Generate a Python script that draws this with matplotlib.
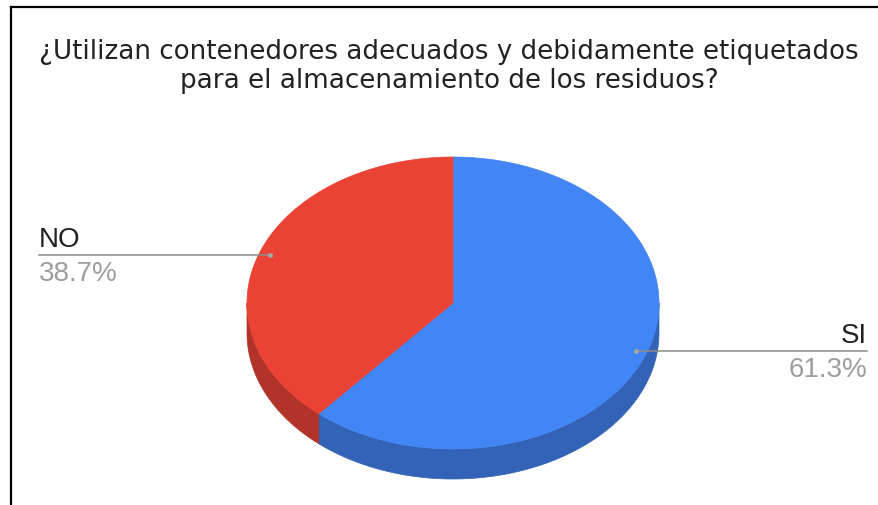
import numpy as np
import matplotlib.pyplot as plt
from matplotlib.patches import Polygon

plt.rcParams['font.family'] = ['Liberation Sans', 'DejaVu Sans']

# chart data
title_lines = ["¿Utilizan contenedores adecuados y debidamente etiquetados",
               "para el almacenamiento de los residuos?"]
labels = ["SI", "NO"]
values = [61.3, 38.7]
top_colors = ["#4285f4", "#ea4335"]
side_colors = ["#3263b6", "#b1332a"]

W, H = 879, 506
fig = plt.figure(figsize=(W / 100, H / 100), dpi=100)
ax = fig.add_axes([0, 0, 1, 1])
ax.set_xlim(0, W)
ax.set_ylim(H, 0)
ax.axis('off')

# pie geometry in pixels (tilted disc)
cx, cy, rx, ry, depth = 453, 304, 206, 146, 30


def edge(t, r=1.0, dy=0.0):
    """point on the rim, t in degrees clockwise from 12 o'clock"""
    t = np.radians(t)
    return cx + r * rx * np.sin(t), cy - r * ry * np.cos(t) + dy


total = sum(values)
starts = np.concatenate([[0], np.cumsum(values)[:-1]]) / total * 360
spans = np.array(values) / total * 360

# side walls first (only the front half is visible)
for t0, span, col in zip(starts, spans, side_colors):
    a, b = max(t0, 90), min(t0 + span, 270)
    if b <= a:
        continue
    ts = np.linspace(a, b, 200)
    upper = [edge(t) for t in ts]
    lower = [edge(t, dy=depth) for t in ts[::-1]]
    ax.add_patch(Polygon(upper + lower, closed=True, facecolor=col,
                         edgecolor=col, lw=0.5))

# top faces
for t0, span, col in zip(starts, spans, top_colors):
    ts = np.linspace(t0, t0 + span, 300)
    pts = [(cx, cy)] + [edge(t) for t in ts]
    ax.add_patch(Polygon(pts, closed=True, facecolor=col, edgecolor=col, lw=0.5))

# leader lines and labels
for lab, val, t0, span in zip(labels, values, starts, spans):
    mid = t0 + span / 2
    px, py = edge(mid, r=0.95)
    if mid < 180:
        x_end, ha = 867, 'right'
    else:
        x_end, ha = 39, 'left'
    ax.plot([px, x_end], [py, py], color='#8c8c8c', lw=1.1, zorder=3)
    ax.plot(px, py, 'o', ms=3.5, color='#a3aaa0', mec='none', zorder=4)
    ax.text(x_end, py - 9, lab, ha=ha, va='baseline', fontsize=20, color='#212121')
    ax.text(x_end, py + 25, f"{val:.1f}%", ha=ha, va='baseline', fontsize=20,
            color='#9e9e9e')

# title
for i, line in enumerate(title_lines):
    ax.text(449, 59 + i * 29, line, ha='center', va='baseline', fontsize=18.8,
            family='DejaVu Sans', color='#222222')

# frame (left and top edges)
ax.plot([11, 11], [H, 8], color='black', lw=1.6, solid_capstyle='projecting')
ax.plot([11, W], [8, 8], color='black', lw=1.6, solid_capstyle='projecting')

fig.savefig('out.png', dpi=100)
